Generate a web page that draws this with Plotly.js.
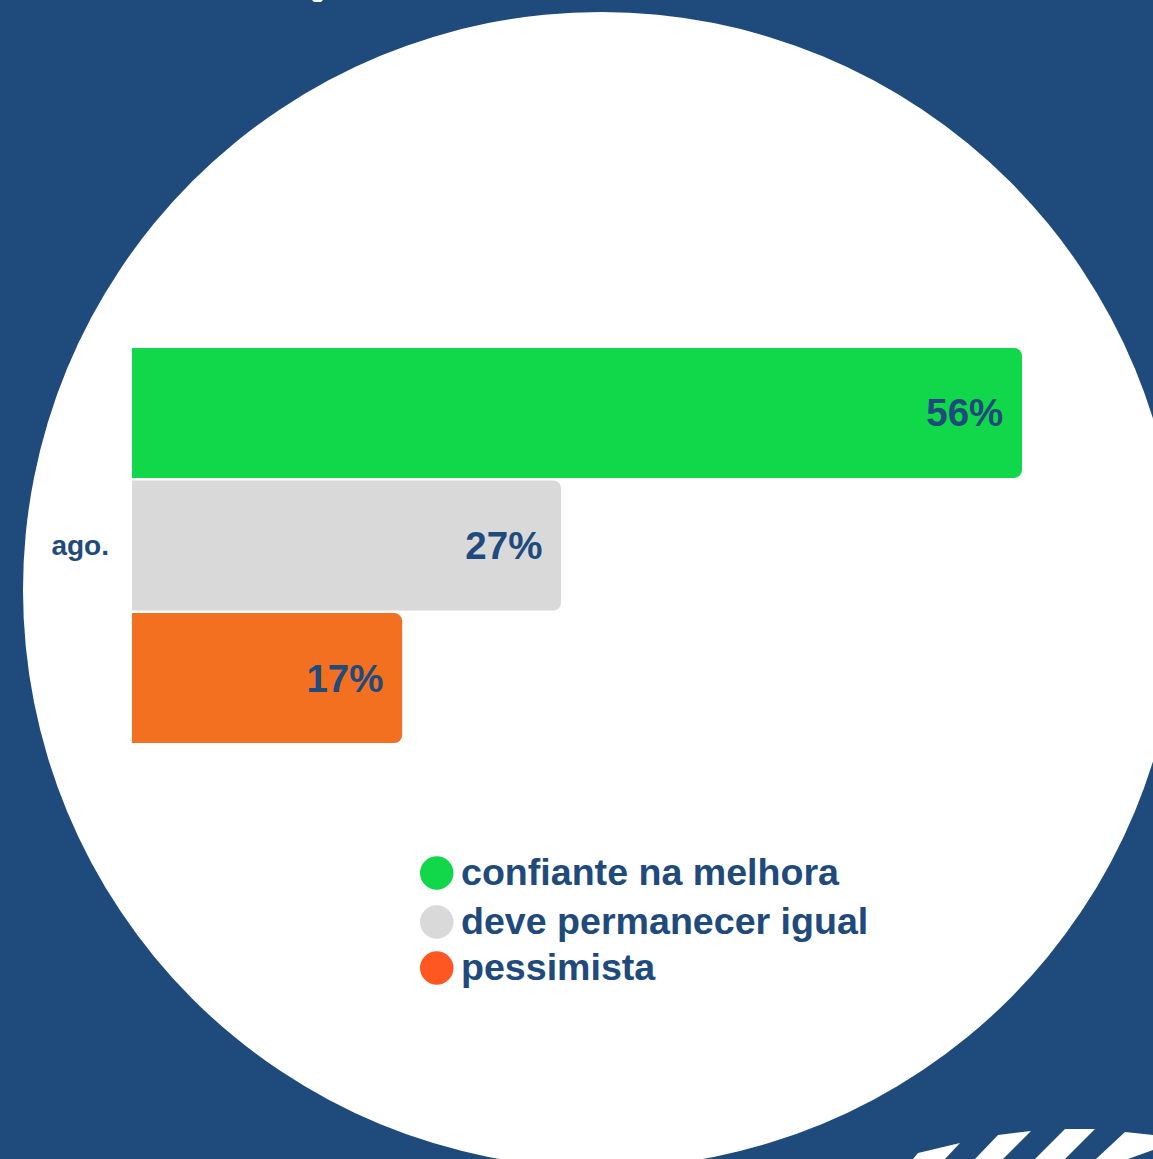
<!DOCTYPE html>
<html>
<head>
<meta charset="utf-8">
<script src="https://cdn.plot.ly/plotly-3.0.1.min.js"></script>
<style>
  html, body { margin: 0; padding: 0; background: #1F4A7C; }
  #chart { width: 1153px; height: 1159px; }
</style>
</head>
<body>
<div id="chart"></div>
<script>
// ---- data ----
const categories = ['ago.'];
const seriesNames = ['confiante na melhora', 'deve permanecer igual', 'pessimista'];
const confiante = [56];
const igual = [27];
const pessimista = [17];
const barColors = ['#10D84A', '#D9D9D9', '#F47021'];
const legendColors = ['#10D84A', '#D9D9D9', '#FF5722'];

// ---- layout helpers ----
const W = 1153, H = 1159;
const BLUE = '#1F4A7C';
const TEXT = '#204A7C';
const FAMILY = '"Liberation Sans", Arial, sans-serif';
const px = x => x / W;
const py = y => 1 - y / H;
const poly = pts => 'M ' + pts.map(p => px(p[0]) + ' ' + py(p[1])).join(' L ') + ' Z';

const seriesValues = [confiante, igual, pessimista];
const traces = seriesValues.map((vals, i) => ({
  type: 'bar',
  orientation: 'h',
  y: categories,
  x: vals,
  name: seriesNames[i],
  marker: { color: barColors[i], line: { width: 0 } },
  text: vals.map(v => v + '%\u00a0'),
  textposition: 'inside',
  insidetextanchor: 'end',
  textfont: { family: FAMILY, size: 38.5, weight: 700, color: TEXT },
  hoverinfo: 'skip',
  showlegend: false
}));

const allVals = [].concat(...seriesValues);
const xmax = Math.max(...allVals);

const shapes = [];
// background white circle
shapes.push({ type: 'circle', xref: 'paper', yref: 'paper', layer: 'below',
  x0: px(23), x1: px(1179), y0: py(1168), y1: py(12),
  fillcolor: '#FFFFFF', line: { width: 0 } });
// decorative stripes bottom right
[
  [[913,1159],[918,1153],[960,1143],[945,1159]],
  [[975,1159],[998,1135],[1031,1131],[1003,1159]],
  [[1035,1159],[1065,1129],[1095,1129],[1065,1159]],
  [[1096,1159],[1125,1132],[1153,1135],[1153,1150],[1128,1159]],
  [[312,0],[323,0],[321,2],[314,2]]
].forEach(p => shapes.push({ type: 'path', xref: 'paper', yref: 'paper', layer: 'below',
  path: poly(p), fillcolor: '#FFFFFF', line: { width: 0 } }));

// custom legend
const legendY = [873, 922, 968];
const annotations = [];
seriesNames.forEach((n, i) => {
  shapes.push({ type: 'circle', xref: 'paper', yref: 'paper', layer: 'above',
    x0: px(420), x1: px(453.5), y0: py(legendY[i] + 16.7), y1: py(legendY[i] - 16.7),
    fillcolor: legendColors[i], line: { width: 0 } });
  annotations.push({ xref: 'paper', yref: 'paper', x: px(459), y: py(legendY[i] - 1),
    xanchor: 'left', yanchor: 'middle', showarrow: false, text: n,
    font: { family: FAMILY, size: 37.6, weight: 700, color: TEXT } });
});

const layout = {
  width: W, height: H,
  margin: { l: 0, r: 0, t: 0, b: 0, pad: 0 },
  paper_bgcolor: BLUE,
  plot_bgcolor: 'rgba(0,0,0,0)',
  barmode: 'group',
  bargap: 0.075,
  bargroupgap: 0.02,
  barcornerradius: 8,
  showlegend: false,
  xaxis: { domain: [px(132), px(1022)], range: [0, xmax], visible: false, fixedrange: true },
  yaxis: {
    domain: [py(760.5), py(330.5)],
    autorange: 'reversed',
    showgrid: false, zeroline: false, showline: false, ticks: '',
    ticklabelstandoff: 22,
    tickfont: { family: FAMILY, size: 28, weight: 700, color: TEXT },
    fixedrange: true
  },
  shapes: shapes,
  annotations: annotations
};

Plotly.newPlot('chart', traces, layout, { displayModeBar: false, staticPlot: true });
</script>
</body>
</html>
